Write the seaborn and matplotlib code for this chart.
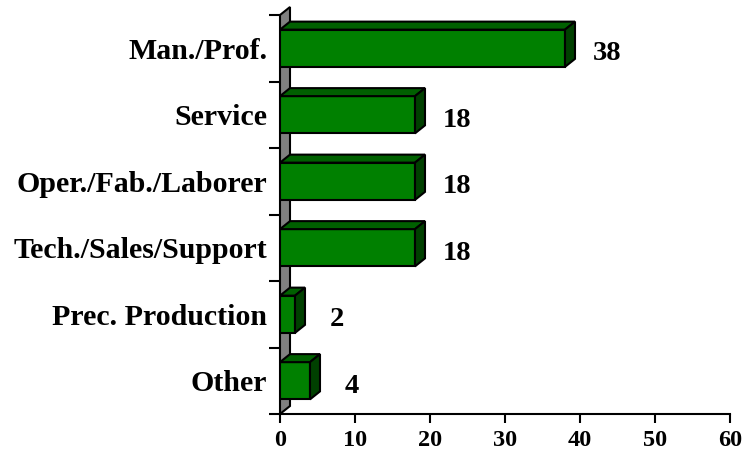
import matplotlib
matplotlib.use("Agg")
import matplotlib.pyplot as plt
from matplotlib.patches import Polygon
from matplotlib.transforms import IdentityTransform
import seaborn as sns
import pandas as pd

categories = ["Man./Prof.", "Service", "Oper./Fab./Laborer",
              "Tech./Sales/Support", "Prec. Production", "Other"]
values = [38, 18, 18, 18, 2, 4]
x_ticks = [0, 10, 20, 30, 40, 50, 60]

FRONT = "#008000"
TOP = "#006000"
SIDE = "#004000"
WALL = "#808080"
DEPTH_X, DEPTH_Y = 10, 8  # pixel offset of the 3-D depth
EDGE_W = 1.5

sns.set_theme(style="white")
plt.rcParams["font.family"] = ["Liberation Serif", "DejaVu Serif"]
plt.rcParams["font.weight"] = "bold"
plt.rcParams["text.color"] = "black"
plt.rcParams["xtick.labelcolor"] = "black"
plt.rcParams["ytick.labelcolor"] = "black"

df = pd.DataFrame({"category": categories, "value": values})

fig = plt.figure(figsize=(7.45, 4.61), dpi=100)
ax = fig.add_axes([280 / 745, 47 / 461, 450 / 745, 399 / 461])

sns.barplot(data=df, x="value", y="category", orient="h", color=FRONT,
            saturation=1, width=0.56, edgecolor="black", linewidth=EDGE_W,
            ax=ax, zorder=3)
ax.set_xlim(0, 60)
ax.set_ylim(len(categories) - 0.5, -0.5)
ax.set_xlabel("")
ax.set_ylabel("")

for s in ["top", "right", "left"]:
    ax.spines[s].set_visible(False)
ax.spines["bottom"].set_color("black")
ax.spines["bottom"].set_linewidth(EDGE_W)

ax.set_xticks(x_ticks)
ax.set_xticklabels([str(t) for t in x_ticks], fontsize=17.5, fontweight="bold")
ax.tick_params(axis="x", direction="out", length=6.5, width=EDGE_W,
               color="black", pad=5, bottom=True)

ax.set_yticks(range(len(categories)))
ax.set_yticklabels(categories, fontsize=21.5, fontweight="bold")
ax.set_yticks([i - 0.5 for i in range(len(categories) + 1)], minor=True)
ax.tick_params(axis="y", which="major", length=0, pad=9, left=False)
ax.tick_params(axis="y", which="minor", direction="out", length=8,
               width=EDGE_W, color="black", left=True)

fig.canvas.draw()
to_disp = ax.transData.transform

# Gray back wall along the value axis origin
wx0, wyb = to_disp((0, len(categories) - 0.5))
_, wyt = to_disp((0, -0.5))
wall = Polygon([(wx0, wyb), (wx0 + DEPTH_X, wyb + DEPTH_Y),
                (wx0 + DEPTH_X, wyt + DEPTH_Y), (wx0, wyt)],
               closed=True, facecolor=WALL, edgecolor="black", linewidth=EDGE_W,
               transform=IdentityTransform(), zorder=1, clip_on=False)
ax.add_patch(wall)

# Top and side faces for each bar, then the value label
for patch, val in zip(list(ax.patches)[:len(values)], values):
    bb = patch.get_bbox()
    (x0, y0), (x1, y1) = to_disp((bb.x0, bb.y0)), to_disp((bb.x1, bb.y1))
    left, right = min(x0, x1), max(x0, x1)
    low, high = min(y0, y1), max(y0, y1)
    top = Polygon([(left, high), (right, high),
                   (right + DEPTH_X, high + DEPTH_Y), (left + DEPTH_X, high + DEPTH_Y)],
                  closed=True, facecolor=TOP, edgecolor="black", linewidth=EDGE_W,
                  transform=IdentityTransform(), zorder=4, clip_on=False)
    side = Polygon([(right, low), (right + DEPTH_X, low + DEPTH_Y),
                    (right + DEPTH_X, high + DEPTH_Y), (right, high)],
                   closed=True, facecolor=SIDE, edgecolor="black", linewidth=EDGE_W,
                   transform=IdentityTransform(), zorder=4, clip_on=False)
    ax.add_patch(top)
    ax.add_patch(side)
    ax.annotate(str(val), xy=(val, (bb.y0 + bb.y1) / 2), xytext=(30, -4),
                textcoords="offset points", ha="center", va="center",
                fontsize=20.5, fontweight="bold", color="black", zorder=5)

fig.savefig("out.png", dpi=100)
